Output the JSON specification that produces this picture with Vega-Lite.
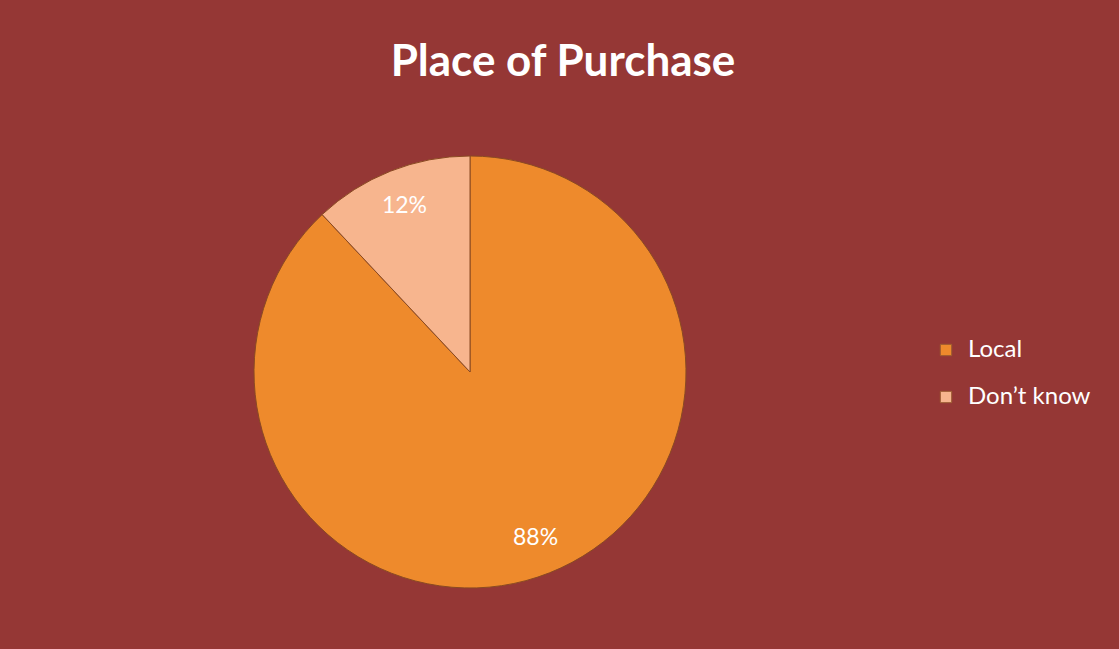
{
  "$schema": "https://vega.github.io/schema/vega-lite/v6.json",
  "width": 920,
  "height": 554,
  "autosize": {"type": "none"},
  "padding": {"left": 10, "top": 95, "right": 189, "bottom": 0},
  "background": "#953735",
  "title": {"text": "Place of Purchase", "font": "Lato", "fontSize": 44, "fontWeight": "bold", "color": "white", "anchor": "middle", "dx": 93, "offset": 10},
  "data": {"values": [
    {"place": "Local", "share": 88, "label": "88%", "order": 1},
    {"place": "Don’t know", "share": 12, "label": "12%", "order": 2}
  ]},
  "encoding": {
    "theta": {"field": "share", "type": "quantitative", "stack": true},
    "order": {"field": "order", "type": "quantitative"}
  },
  "layer": [
    {
      "mark": {"type": "arc", "radius": 216, "stroke": "#8a4a22", "strokeWidth": 1},
      "encoding": {
        "color": {
          "field": "place", "type": "nominal",
          "scale": {"domain": ["Local", "Don’t know"], "range": ["#EE8A2C", "#F7B58E"]},
          "legend": {"title": null, "orient": "none", "legendX": 924, "legendY": 243, "symbolType": "square", "symbolSize": 130, "symbolStrokeColor": "#9a5a30", "symbolStrokeWidth": 1, "labelFont": "Lato", "labelFontSize": 24, "labelColor": "white", "rowPadding": 23, "labelOffset": 10, "padding": 0}
        }
      }
    },
    {
      "mark": {"type": "text", "radius": 178, "font": "Lato", "fontSize": 23, "color": "white"},
      "encoding": {"text": {"field": "label"}}
    }
  ],
  "config": {"view": {"stroke": null}}
}
